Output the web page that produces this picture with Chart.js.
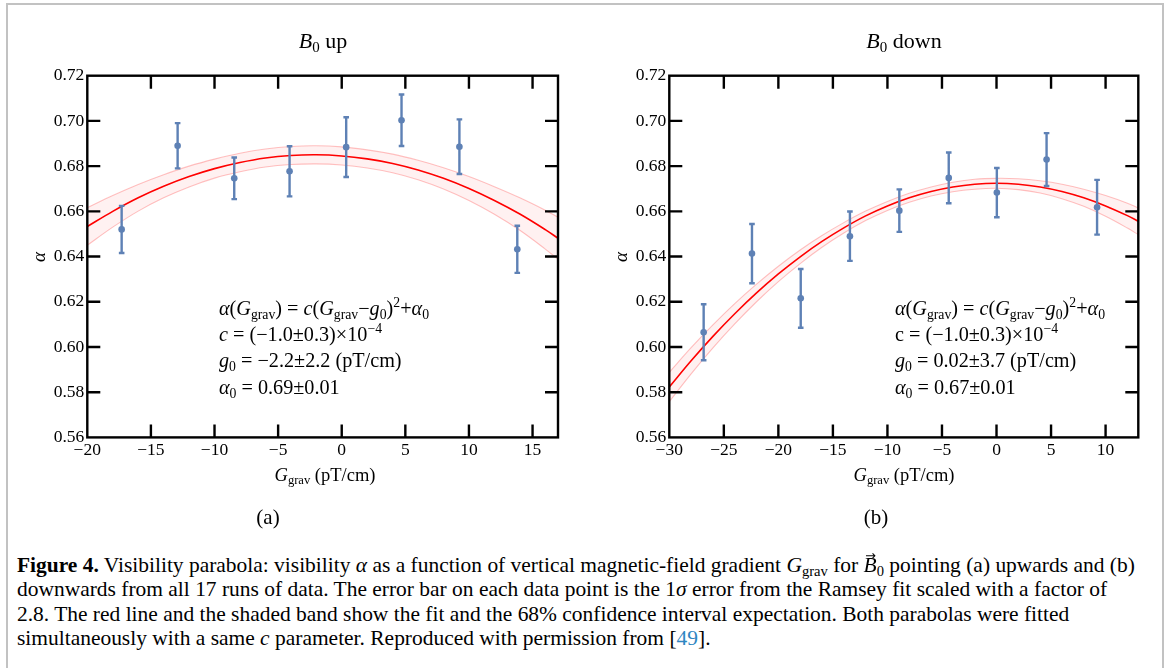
<!DOCTYPE html>
<html>
<head>
<meta charset="utf-8">
<script src="https://cdn.jsdelivr.net/npm/chart.js@4.4.1/dist/chart.umd.min.js"></script>
<style>
  html, body { margin: 0; padding: 0; background: #fff; }
  body {
    width: 1167px; height: 668px; position: relative; overflow: hidden;
    font-family: "Liberation Serif", "Times New Roman", serif; color: #000;
  }
  .frame {
    position: absolute; left: 6px; top: 3px; width: 1158px; height: 720px;
    border: 2px solid #c2c2c2; box-sizing: border-box;
  }
  .plot { position: absolute; top: 0; width: 580px; height: 470px; }
  .txt { position: absolute; white-space: nowrap; line-height: 1; }
  .c { transform: translate(-50%, -50%); }
  .l { transform: translate(0, -50%); }
  sub { font-size: 68%; vertical-align: -0.28em; line-height: 0; }
  sup { font-size: 68%; vertical-align: 0.55em; line-height: 0; }
  .title { font-size: 22px; }
  .axt { font-size: 18.5px; }
  .ann { font-size: 20.2px; }
  .ylab { font-size: 19px; font-style: italic; transform: translate(-50%, -50%) rotate(-90deg); }
  .sublab { font-size: 21px; }
  #caption { position: absolute; left: 17px; top: 553px; font-size: 18.5px; }
  #caption div { white-space: nowrap; height: 24.4px; line-height: 24.4px; }
  .vec { position: relative; display: inline-block; line-height: 1; }
  .vec .arr {
    position: absolute; left: 0.14em; top: -0.42em; font-size: 0.6em;
    font-style: normal; font-family: "DejaVu Sans", sans-serif;
  }
  .ref { color: #2e86c1; }
</style>
</head>
<body>
<div class="frame"></div>

<canvas id="chartUp" class="plot" width="580" height="470" style="left:0px"></canvas>
<canvas id="chartDown" class="plot" width="580" height="470" style="left:580px"></canvas>

<div class="txt c title" style="left:323px; top:41px"><i>B</i><sub>0</sub> up</div>
<div class="txt c title" style="left:904px; top:41px"><i>B</i><sub>0</sub> down</div>

<div class="txt ylab" style="left:38px; top:257px">α</div>
<div class="txt ylab" style="left:620px; top:257px">α</div>

<div class="txt c axt" style="left:325px; top:475px"><i>G</i><sub>grav</sub> (pT/cm)</div>
<div class="txt c axt" style="left:904px; top:475px"><i>G</i><sub>grav</sub> (pT/cm)</div>

<div class="txt l ann" style="left:219px; top:308px"><i>α</i>(<i>G</i><sub>grav</sub>) = <i>c</i>(<i>G</i><sub>grav</sub>−<i>g</i><sub>0</sub>)<sup>2</sup>+<i>α</i><sub>0</sub></div>
<div class="txt l ann" style="left:219px; top:334px"><i>c</i> = (−1.0±0.3)×10<sup>−4</sup></div>
<div class="txt l ann" style="left:219px; top:360px"><i>g</i><sub>0</sub> = −2.2±2.2 (pT/cm)</div>
<div class="txt l ann" style="left:219px; top:387px"><i>α</i><sub>0</sub> = 0.69±0.01</div>

<div class="txt l ann" style="left:895px; top:308px"><i>α</i>(<i>G</i><sub>grav</sub>) = <i>c</i>(<i>G</i><sub>grav</sub>−<i>g</i><sub>0</sub>)<sup>2</sup>+<i>α</i><sub>0</sub></div>
<div class="txt l ann" style="left:895px; top:334px">c = (−1.0±0.3)×10<sup>−4</sup></div>
<div class="txt l ann" style="left:895px; top:360px"><i>g</i><sub>0</sub> = 0.02±3.7 (pT/cm)</div>
<div class="txt l ann" style="left:895px; top:387px"><i>α</i><sub>0</sub> = 0.67±0.01</div>

<div class="txt c sublab" style="left:268px; top:517px">(a)</div>
<div class="txt c sublab" style="left:876px; top:517px">(b)</div>

<div id="caption">
  <div id="capLine1"><b>Figure 4.</b> Visibility parabola: visibility <i>α</i> as a function of vertical magnetic-field gradient <i>G</i><sub>grav</sub> for <span class="vec"><i>B</i><span class="arr">→</span></span><sub>0</sub> pointing (a) upwards and (b)</div>
  <div>downwards from all 17 runs of data. The error bar on each data point is the 1<i>σ</i> error from the Ramsey fit scaled with a factor of</div>
  <div>2.8. The red line and the shaded band show the fit and the 68% confidence interval expectation. Both parabolas were fitted</div>
  <div>simultaneously with a same <i>c</i> parameter. Reproduced with permission from [<span class="ref">49</span>].</div>
</div>

<script>
// ---------- B0 up ----------
const xUp = [-17.3, -12.9, -8.45, -4.1, 0.35, 4.7, 9.25, 13.8];
const yUp = [0.652, 0.689, 0.6746, 0.6777, 0.6884, 0.7003, 0.6886, 0.6432];
const errUp = [0.0104, 0.0100, 0.0092, 0.0111, 0.0132, 0.0114, 0.0121, 0.0104];

const fitXUp = [-20, -18, -16, -14, -12, -10, -8, -6, -4, -2, 0, 2, 4, 6, 8, 10, 12, 14, 16, 17];
const fitUp = [0.6533, 0.6600, 0.6660, 0.6711, 0.6754, 0.6789, 0.6816, 0.6836, 0.6847, 0.6850,
  0.6845, 0.6832, 0.6812, 0.6783, 0.6746, 0.6701, 0.6648, 0.6588, 0.6519, 0.6481];
const bandHiUp = [0.6616, 0.6670, 0.6719, 0.6762, 0.6800, 0.6831, 0.6857, 0.6876, 0.6887, 0.6890,
  0.6885, 0.6872, 0.6853, 0.6826, 0.6793, 0.6754, 0.6709, 0.6660, 0.6605, 0.6574];
const bandLoUp = [0.6450, 0.6530, 0.6601, 0.6660, 0.6708, 0.6747, 0.6775, 0.6796, 0.6807, 0.6810,
  0.6805, 0.6792, 0.6771, 0.6740, 0.6699, 0.6648, 0.6587, 0.6516, 0.6433, 0.6388];

// ---------- B0 down ----------
const xDown = [-26.85, -22.42, -17.95, -13.44, -8.91, -4.38, 0.03, 4.59, 9.22];
const yDown = [0.6065, 0.6413, 0.6215, 0.649, 0.6603, 0.6748, 0.6683, 0.6829, 0.6618];
const errDown = [0.0124, 0.0131, 0.0130, 0.0109, 0.0094, 0.0112, 0.0109, 0.0117, 0.0121];

const fitXDown = [-30, -28, -26, -24, -22, -20, -18, -16, -14, -12, -10, -8, -6, -4, -2, 0, 2, 4, 6, 8, 10, 12, 13];
const fitDown = [0.5823, 0.5939, 0.6047, 0.6147, 0.6239, 0.6323, 0.6399, 0.6467, 0.6527, 0.6580, 0.6624,
  0.6660, 0.6688, 0.6708, 0.6720, 0.6724, 0.6720, 0.6708, 0.6688, 0.6660, 0.6624, 0.6581, 0.6556];
const bandHiDown = [0.5888, 0.5997, 0.6098, 0.6192, 0.6278, 0.6357, 0.6429, 0.6493, 0.6550, 0.6601, 0.6644,
  0.6680, 0.6708, 0.6729, 0.6742, 0.6746, 0.6744, 0.6735, 0.6720, 0.6698, 0.6670, 0.6636, 0.6615];
const bandLoDown = [0.5758, 0.5881, 0.5996, 0.6102, 0.6200, 0.6289, 0.6369, 0.6441, 0.6504, 0.6559, 0.6604,
  0.6640, 0.6668, 0.6687, 0.6698, 0.6702, 0.6696, 0.6681, 0.6656, 0.6622, 0.6578, 0.6526, 0.6497];

// ---------- ticks ----------
const xTicksUp = [-20, -15, -10, -5, 0, 5, 10, 15];
const xTicksDown = [-30, -25, -20, -15, -10, -5, 0, 5, 10];
const yTicks = [0.56, 0.58, 0.60, 0.62, 0.64, 0.66, 0.68, 0.70, 0.72];

const BLUE = "#5e81b5";
const TICK_FONT = { family: "Liberation Serif", size: 17.5 };

Chart.defaults.font.family = "Liberation Serif";
Chart.defaults.color = "#000";

const toPoints = (xs, ys) => xs.map((x, i) => ({ x: x, y: ys[i] }));

// inward ticks on all four sides + frame
const frameTicks = {
  id: "frameTicks",
  afterDraw(chart) {
    const { ctx, chartArea: a, scales } = chart;
    const x = scales.x, y = scales.y;
    const len = 13;
    ctx.save();
    ctx.strokeStyle = "#000";
    ctx.lineWidth = 2.4;
    ctx.beginPath();
    x.ticks.forEach((t) => {
      const px = x.getPixelForValue(t.value);
      if (px < a.left + 2 || px > a.right - 2) return;
      ctx.moveTo(px, a.bottom);
      ctx.lineTo(px, a.bottom - len);
      ctx.moveTo(px, a.top);
      ctx.lineTo(px, a.top + len);
    });
    y.ticks.forEach((t) => {
      const py = y.getPixelForValue(t.value);
      if (py < a.top + 2 || py > a.bottom - 2) return;
      ctx.moveTo(a.left, py);
      ctx.lineTo(a.left + len, py);
      ctx.moveTo(a.right, py);
      ctx.lineTo(a.right - len, py);
    });
    ctx.stroke();
    ctx.strokeRect(a.left, a.top, a.right - a.left, a.bottom - a.top);
    ctx.restore();
  },
};

// vertical error bars with small caps, drawn under the points
const errorBars = {
  id: "errorBars",
  beforeDatasetDraw(chart, args) {
    const ds = chart.data.datasets[args.index];
    if (!ds.errors) return;
    const { ctx } = chart;
    const y = chart.scales.y;
    ctx.save();
    ctx.strokeStyle = BLUE;
    ctx.lineWidth = 2.4;
    ctx.beginPath();
    args.meta.data.forEach((el, i) => {
      const v = ds.data[i].y;
      const top = y.getPixelForValue(v + ds.errors[i]);
      const bot = y.getPixelForValue(v - ds.errors[i]);
      ctx.moveTo(el.x, top);
      ctx.lineTo(el.x, bot);
      ctx.moveTo(el.x - 2.8, top);
      ctx.lineTo(el.x + 2.8, top);
      ctx.moveTo(el.x - 2.8, bot);
      ctx.lineTo(el.x + 2.8, bot);
    });
    ctx.stroke();
    ctx.restore();
  },
};

const minus = (v) => String(v).replace("-", "\u2212");

function makeChart(id, cfg) {
  return new Chart(document.getElementById(id), {
    data: {
      datasets: [
        {
          type: "scatter",
          data: toPoints(cfg.xs, cfg.ys),
          errors: cfg.errs,
          pointRadius: 3.3,
          pointHoverRadius: 3.3,
          backgroundColor: BLUE,
          borderWidth: 0,
        },
        {
          type: "line",
          data: toPoints(cfg.fitX, cfg.fit),
          borderColor: "#ff0000",
          borderWidth: 1.6,
          pointRadius: 0,
          tension: 0.35,
          fill: false,
        },
        {
          type: "line",
          data: toPoints(cfg.fitX, cfg.hi),
          borderColor: "rgba(255,80,80,0.35)",
          borderWidth: 1.1,
          pointRadius: 0,
          tension: 0.35,
          fill: "+1",
          backgroundColor: "rgba(255,60,60,0.07)",
        },
        {
          type: "line",
          data: toPoints(cfg.fitX, cfg.lo),
          borderColor: "rgba(255,80,80,0.35)",
          borderWidth: 1.1,
          pointRadius: 0,
          tension: 0.35,
          fill: false,
        },
      ],
    },
    options: {
      responsive: false,
      animation: false,
      events: [],
      layout: { padding: { top: 75.7, right: cfg.padRight, left: 0, bottom: 0 } },
      plugins: { legend: { display: false }, tooltip: { enabled: false } },
      scales: {
        x: {
          type: "linear",
          min: cfg.xMin,
          max: cfg.xMax,
          afterBuildTicks: (ax) => { ax.ticks = cfg.xTicks.map((v) => ({ value: v })); },
          afterFit: (s) => { s.height = 470 - 437.4; },
          grid: { display: false, drawTicks: false },
          border: { display: false },
          ticks: {
            callback: (v) => minus(v),
            font: TICK_FONT,
            color: "#000",
            padding: 3,
            maxRotation: 0,
            autoSkip: false,
          },
        },
        y: {
          type: "linear",
          min: 0.56,
          max: 0.72,
          afterBuildTicks: (ax) => { ax.ticks = yTicks.map((v) => ({ value: v })); },
          afterFit: (s) => { s.width = cfg.axisWidth; },
          grid: { display: false, drawTicks: false },
          border: { display: false },
          ticks: {
            callback: (v) => v.toFixed(2),
            font: TICK_FONT,
            color: "#000",
            padding: 3,
            autoSkip: false,
          },
        },
      },
    },
    plugins: [errorBars, frameTicks],
  });
}

makeChart("chartUp", {
  xs: xUp, ys: yUp, errs: errUp,
  fitX: fitXUp, fit: fitUp, hi: bandHiUp, lo: bandLoUp,
  xMin: -20, xMax: 17, xTicks: xTicksUp,
  axisWidth: 87.3, padRight: 580 - 558,
});

makeChart("chartDown", {
  xs: xDown, ys: yDown, errs: errDown,
  fitX: fitXDown, fit: fitDown, hi: bandHiDown, lo: bandLoDown,
  xMin: -30, xMax: 13, xTicks: xTicksDown,
  axisWidth: 89.3, padRight: 580 - 558.3,
});

// fit caption width to the reference line length
const line1 = document.getElementById("capLine1");
const cap = document.getElementById("caption");
const w = line1.scrollWidth;
const fs = parseFloat(getComputedStyle(cap).fontSize);
cap.style.fontSize = (fs * 1118 / w).toFixed(2) + "px";
</script>
</body>
</html>
